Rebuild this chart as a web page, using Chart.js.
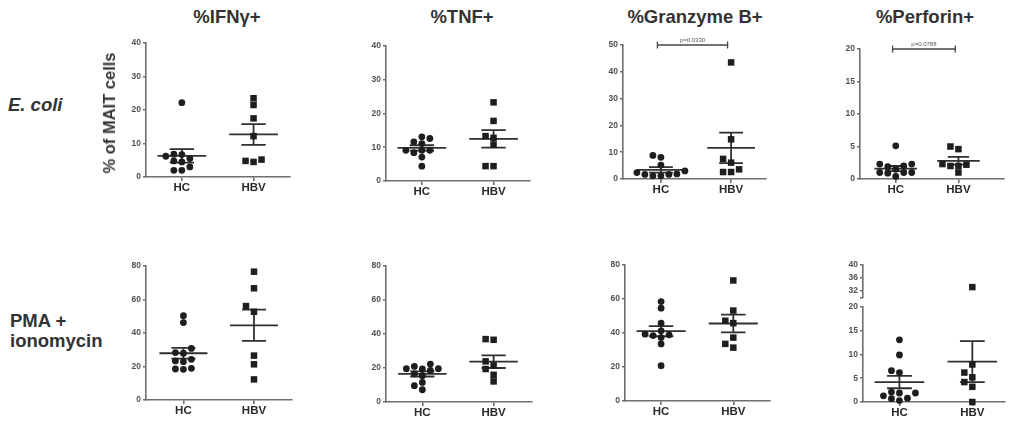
<!DOCTYPE html>
<html>
<head>
<meta charset="utf-8">
<script src="https://cdn.jsdelivr.net/npm/chart.js@4.4.1/dist/chart.umd.min.js"></script>
<style>
  html, body { margin: 0; padding: 0; background: #fff; }
  body { width: 1011px; height: 422px; position: relative; overflow: hidden;
         font-family: 'Liberation Sans', Arial, Helvetica, sans-serif; color: #333; }
  canvas { position: absolute; }
  .lbl { position: absolute; font-weight: bold; white-space: nowrap; }
</style>
</head>
<body>
<script>
// ---- data ----
const groups = ['HC', 'HBV'];
const markers = ['%IFNγ+', '%TNF+', '%Granzyme B+', '%Perforin+'];
const stimuli = ['E. coli', 'PMA +\nionomycin'];
const yTitle = '% of MAIT cells';

// E. coli stimulation, % of MAIT cells
const ecoliIfngHC = [22.2, 6.2, 6.8, 6.7, 5.5, 4.8, 4.5, 3.0, 2.0, 2.0];
const ecoliIfngHBV = [23.5, 21.5, 17.5, 12.2, 5.2, 4.5, 4.8];
const ecoliTnfHC = [13.1, 12.6, 11.6, 11.1, 9.1, 8.4, 9.1, 9.1, 7.1, 4.4];
const ecoliTnfHBV = [23.3, 17.8, 12.8, 13.3, 10.8, 4.4, 4.4];
const ecoliGzmbHC = [8.1, 8.8, 5.2, 3.0, 2.4, 1.7, 1.9, 1.7, 1.2, 1.2];
const ecoliGzmbHBV = [43.5, 14.8, 7.5, 6.1, 3.6, 2.6, 2.6];
const ecoliPrfHC = [5.1, 2.3, 1.9, 2.0, 2.3, 1.0, 1.0, 1.5, 1.0, 0.9, 0.4];
const ecoliPrfHBV = [5.0, 4.6, 2.0, 2.2, 2.0, 2.3, 1.0];

// PMA + ionomycin stimulation
const pmaIfngHC = [50.3, 46.2, 30.8, 28.3, 27.9, 24.3, 23.3, 22.9, 18.5, 18.3, 18.9];
const pmaIfngHBV = [76.6, 66.7, 56.1, 52.7, 26.5, 21.3, 12.3];
const pmaTnfHC = [22.3, 19.6, 19.4, 20.9, 19.6, 16.6, 15.5, 18.6, 11.5, 9.6, 7.2];
const pmaTnfHBV = [36.6, 37.0, 21.5, 23.9, 19.4, 16.0, 12.1];
const pmaGzmbHC = [58.5, 54.6, 45.8, 41.3, 39.3, 38.9, 38.5, 37.3, 33.6, 20.8];
const pmaGzmbHBV = [70.9, 53.2, 47.2, 45.8, 37.3, 33.6, 31.4];
const pmaPrfHC = [13.1, 9.9, 6.6, 6.2, 1.9, 1.3, 2.1, 1.9, 0.7, 0.8, 0.3];
const pmaPrfHBV = [33.2, 7.9, 6.2, 5.2, 4.2, 3.2, 0.0];

// mean and SEM per marker (IFNγ, TNF, GzmB, Perforin)
const ecoliMeanHC = [6.3, 9.8, 3.4, 1.6];
const ecoliSemHC = [2.0, 0.8, 1.0, 0.4];
const ecoliMeanHBV = [12.7, 12.5, 11.6, 2.8];
const ecoliSemHBV = [3.1, 2.6, 5.7, 0.6];
const pmaMeanHC = [27.9, 16.5, 41.1, 4.2];
const pmaSemHC = [3.2, 1.5, 3.0, 1.3];
const pmaMeanHBV = [44.6, 23.7, 45.6, 8.5];
const pmaSemHBV = [9.3, 3.7, 5.2, 4.3];

// y tick values
const ecoliTicks = [[0, 10, 20, 30, 40], [0, 10, 20, 30, 40], [0, 10, 20, 30, 40, 50], [0, 5, 10, 15, 20]];
const pmaTicks = [[0, 20, 40, 60, 80], [0, 20, 40, 60, 80], [0, 20, 40, 60, 80], [0, 5, 10, 15, 20]];
const pmaPrfUpperTicks = [30, 32, 36, 40];   // upper segment of the broken axis, 30 = break mark

const ecoliPValues = [null, null, 'p=0.0330', 'p=0.0788'];
const pmaPValues = [null, null, null, null];

// ---- layout / style ----
const YW = 32, PT = 12, PR = 4, XH = 26;
const AXIS = '#6e6e6e';
const INK = '#1e1e1e';
const FONT = "'Liberation Sans', Arial, Helvetica, sans-serif";
const MEAN_HALF = 0.34, SEM_HALF = 0.17;
const SLOT = 8, GAP = 6;
const SLOTS = [0, -1, 1, -2, 2, -3, 3, -4, 4];
const BRACKET = [0.45, 1.45];

// plot-area rectangles [left, right, top, bottom] and x ranges
const plotBoxes = [
  [146, 290, 43, 177], [386, 530, 46, 181], [623, 767, 45, 179], [860, 1005, 49, 179],
  [146, 292, 266, 400], [386, 532, 266, 402], [625, 770, 265, 401], [863, 1005, 265, 402]
];
const xRanges = [[0, 2], [0, 2], [-0.04, 2], [-0.07, 2.23], [-0.03, 2.03], [-0.01, 2.03], [0, 2], [0, 1.94]];

Chart.defaults.font.family = FONT;

function statLine(cx, m, s) {
  const gap = () => ({x: cx, y: null});
  return [
    {x: cx - MEAN_HALF, y: m}, {x: cx + MEAN_HALF, y: m}, gap(),
    {x: cx - SEM_HALF, y: m + s}, {x: cx + SEM_HALF, y: m + s}, gap(),
    {x: cx, y: m + s}, {x: cx, y: m - s}, gap(),
    {x: cx - SEM_HALF, y: m - s}, {x: cx + SEM_HALF, y: m - s}
  ];
}

// spread tied points sideways (scatter dot plot), working in pixels through the scales
function swarm(chart) {
  const xs = chart.scales.x;
  const taken = {};
  chart.data.datasets.forEach(ds => {
    if (!ds.swarmValues) return;
    const ys = chart.scales[ds.yAxisID];
    const cx = xs.getPixelForValue(ds.swarmCenter);
    const list = taken[ds.swarmCenter] || (taken[ds.swarmCenter] = []);
    const vals = ds.swarmValues;
    const order = vals.map((v, i) => i).sort((a, b) => vals[a] - vals[b]);
    const out = new Array(vals.length);
    order.forEach(i => {
      const py = ys.getPixelForValue(vals[i]);
      let px = cx;
      for (const k of SLOTS) {
        px = cx + k * SLOT;
        if (list.every(p => Math.hypot(p.x - px, p.y - py) >= GAP)) break;
      }
      list.push({x: px, y: py});
      out[i] = {x: xs.getValueForPixel(px), y: vals[i]};
    });
    ds.data = out;
  });
  chart.update('none');
}

const pLabel = {
  id: 'pLabel',
  afterDatasetsDraw(chart, args, opts) {
    if (!opts.text) return;
    const xs = chart.scales.x, ys = chart.scales.y;
    const ctx = chart.ctx;
    ctx.save();
    ctx.font = '6px ' + FONT;
    ctx.fillStyle = '#555';
    ctx.textAlign = 'center';
    ctx.textBaseline = 'bottom';
    ctx.fillText(opts.text, xs.getPixelForValue((BRACKET[0] + BRACKET[1]) / 2), ys.getPixelForValue(ys.max) - 1.5);
    ctx.restore();
  }
};

function yAxis(ticks, extra) {
  return Object.assign({
    type: 'linear',
    position: 'left',
    min: ticks[0],
    max: ticks[ticks.length - 1],
    afterBuildTicks: a => { a.ticks = ticks.map(v => ({value: v})); },
    afterFit: a => { a.width = YW; },
    ticks: { font: {size: 8.5, weight: 'bold'}, color: '#505050', padding: 2, autoSkip: false },
    grid: { drawOnChartArea: false, tickLength: 3, color: AXIS, lineWidth: 1.6 },
    border: { color: AXIS, width: 1.6 }
  }, extra || {});
}

function makePanel(idx, values, means, sems, ticks, pText, upperTicks) {
  const [L, R, T, B] = plotBoxes[idx];
  const cv = document.createElement('canvas');
  const w = R - L + YW + PR, h = B - T + PT + XH;
  cv.width = w; cv.height = h;
  cv.style.left = (L - YW) + 'px';
  cv.style.top = (T - PT) + 'px';
  cv.style.width = w + 'px';
  cv.style.height = h + 'px';
  document.body.appendChild(cv);

  const datasets = [];
  const breakAt = ticks[ticks.length - 1];
  groups.forEach((g, gi) => {
    const cx = gi + 0.5;
    datasets.push({
      type: 'line', label: g + ' mean', data: statLine(cx, means[gi], sems[gi]),
      borderColor: '#303030', borderWidth: 1.8, pointRadius: 0, pointHoverRadius: 0,
      spanGaps: false, tension: 0, yAxisID: 'y', order: 2, clip: false
    });
    const sets = upperTicks
      ? [['y', values[gi].filter(v => v <= breakAt)], ['yTop', values[gi].filter(v => v > breakAt)]]
      : [['y', values[gi]]];
    sets.forEach(([axisId, vals]) => {
      if (!vals.length) return;
      datasets.push({
        type: 'scatter', label: g, data: vals.map(v => ({x: cx, y: v})),
        swarmValues: vals, swarmCenter: cx, yAxisID: axisId,
        pointStyle: gi ? 'rect' : 'circle', pointRadius: gi ? 4.6 : 3.4, pointHoverRadius: gi ? 4.6 : 3.4,
        backgroundColor: INK, borderColor: INK, borderWidth: 0, order: 0, clip: false
      });
    });
  });
  if (pText) {
    datasets.push({
      type: 'line', label: 'p', data: BRACKET.map(x => ({x, y: breakAt})),
      borderColor: '#444', borderWidth: 1.3, pointStyle: 'line', pointRotation: 90,
      pointRadius: 3.5, pointBorderColor: '#444', pointBorderWidth: 1.3, pointHoverRadius: 3.5,
      yAxisID: 'y', order: 1, clip: false
    });
  }

  const scales = {
    x: {
      type: 'linear', position: 'bottom',
      min: xRanges[idx][0], max: xRanges[idx][1],
      afterBuildTicks: a => { a.ticks = groups.map((g, i) => ({value: i + 0.5})); },
      afterFit: a => { a.height = XH; },
      ticks: { callback: (v, i) => groups[i], font: {size: 11.5, weight: 'bold'}, color: '#2a2a2a',
               padding: 0, maxRotation: 0, autoSkip: false },
      grid: { drawOnChartArea: false, tickLength: 4, color: AXIS, lineWidth: 1.6 },
      border: { color: AXIS, width: 1.6 }
    }
  };
  if (upperTicks) {
    const lowSpan = 95, gapSpan = 9.5, topSpan = 32.5;
    scales.y = yAxis(ticks, {stack: 'brk', stackWeight: lowSpan, weight: 1});
    scales.yGap = {
      type: 'linear', position: 'left', stack: 'brk', stackWeight: gapSpan, weight: 2,
      min: 0, max: 1, afterFit: a => { a.width = YW; },
      ticks: {display: false}, grid: {display: false}, border: {display: false}
    };
    scales.yTop = yAxis(upperTicks, {stack: 'brk', stackWeight: topSpan, weight: 3});
    scales.yTop.ticks = Object.assign({}, scales.yTop.ticks, {callback: v => v === upperTicks[0] ? '' : v});
  } else {
    scales.y = yAxis(ticks);
  }

  const chart = new Chart(cv, {
    type: 'scatter',
    data: {datasets},
    options: {
      responsive: false,
      animation: false,
      devicePixelRatio: 1,
      layout: {padding: {top: PT, right: PR, left: 0, bottom: 0}},
      scales,
      plugins: {
        legend: {display: false},
        tooltip: {enabled: false},
        pLabel: {text: pText}
      },
      events: []
    },
    plugins: [pLabel]
  });
  swarm(chart);
}

const ecoliValues = [[ecoliIfngHC, ecoliIfngHBV], [ecoliTnfHC, ecoliTnfHBV], [ecoliGzmbHC, ecoliGzmbHBV], [ecoliPrfHC, ecoliPrfHBV]];
const pmaValues = [[pmaIfngHC, pmaIfngHBV], [pmaTnfHC, pmaTnfHBV], [pmaGzmbHC, pmaGzmbHBV], [pmaPrfHC, pmaPrfHBV]];

for (let c = 0; c < 4; c++) {
  makePanel(c, ecoliValues[c], [ecoliMeanHC[c], ecoliMeanHBV[c]], [ecoliSemHC[c], ecoliSemHBV[c]],
            ecoliTicks[c], ecoliPValues[c], null);
  makePanel(4 + c, pmaValues[c], [pmaMeanHC[c], pmaMeanHBV[c]], [pmaSemHC[c], pmaSemHBV[c]],
            pmaTicks[c], pmaPValues[c], c === 3 ? pmaPrfUpperTicks : null);
}

// ---- text: column titles, row labels, y title ----
function addText(text, css) {
  const d = document.createElement('div');
  d.className = 'lbl';
  d.textContent = text;
  Object.assign(d.style, css);
  document.body.appendChild(d);
  return d;
}
const titleCenters = [227, 462, 695, 925];
markers.forEach((m, i) => addText(m, {
  left: titleCenters[i] + 'px', top: '7px', transform: 'translateX(-50%)',
  fontSize: '18.5px', lineHeight: '20px', color: '#333'
}));
addText(stimuli[0], {left: '8px', top: '95px', fontSize: '18.5px', lineHeight: '20px', fontStyle: 'italic', color: '#333'});
addText(stimuli[1], {left: '10px', top: '311px', fontSize: '18.5px', lineHeight: '20px', whiteSpace: 'pre', color: '#333'});
addText(yTitle, {left: '109px', top: '113px', transform: 'translate(-50%, -50%) rotate(-90deg)',
                 fontSize: '16.5px', lineHeight: '18px', color: '#333'});
</script>
</body>
</html>
